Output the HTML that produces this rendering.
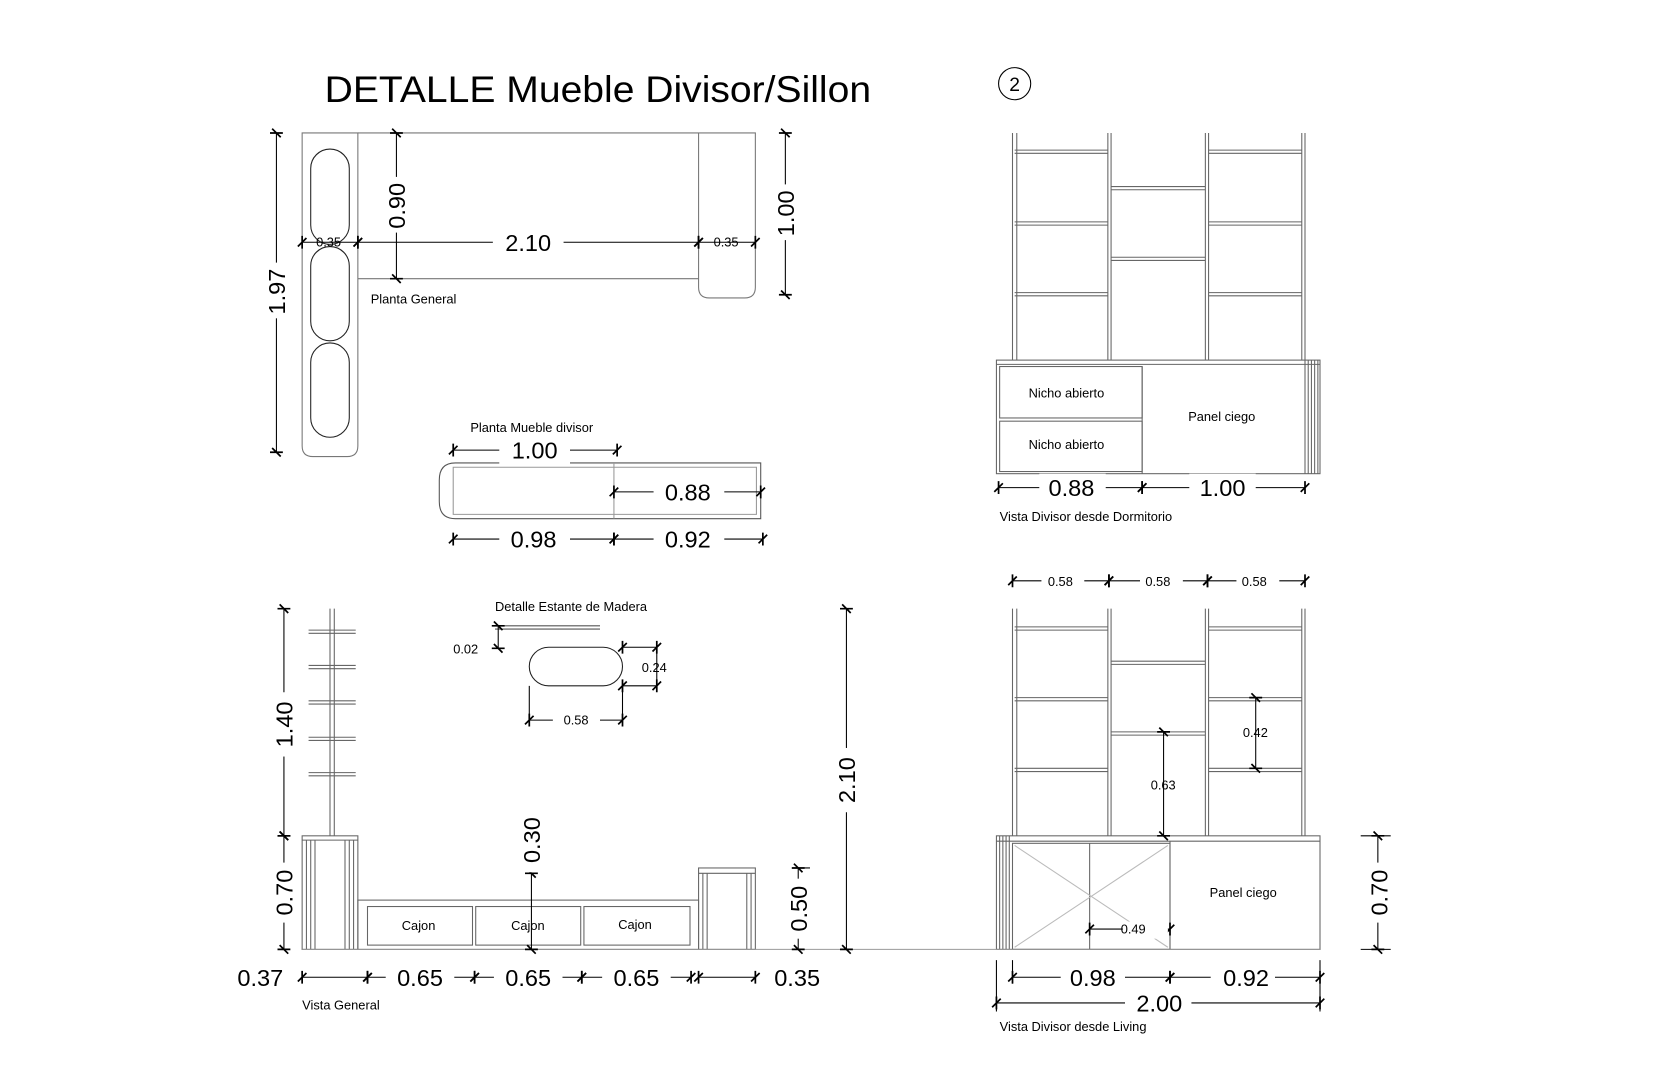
<!DOCTYPE html>
<html><head><meta charset="utf-8"><style>
html,body{margin:0;padding:0;background:#fff;}
svg{display:block;}
text{font-family:"Liberation Sans",sans-serif;fill:#000;}
.d{font-size:22px;}
.s{font-size:12px;}
</style></head><body>
<svg width="1680" height="1092" viewBox="0 0 1568 1019" xmlns="http://www.w3.org/2000/svg">
<defs>
<marker id="t" markerUnits="userSpaceOnUse" markerWidth="16" markerHeight="16" refX="8" refY="8" orient="auto" viewBox="0 0 16 16">
<path d="M4,12 L12,4 M8,2 L8,14" stroke="#000" stroke-width="1.6" fill="none"/>
</marker>
</defs>
<g fill="none" stroke="#000" stroke-width="1">
<path d="M282,124 H334 V416 Q334,426 324,426 H292 Q282,426 282,416 Z" stroke="#777"/>
<rect x="290" y="139" width="36" height="89" rx="18" stroke="#222"/>
<rect x="290" y="230" width="36" height="88" rx="18" stroke="#222"/>
<rect x="290" y="320" width="36" height="88" rx="18" stroke="#222"/>
<path d="M334,124 H705 V268 Q705,278 695,278 H662 Q652,278 652,268 V124 M334,260 H652" stroke="#777"/>
<path d="M425,432 H710 V484 H425 Q410,484 410,468 V448 Q410,432 425,432 Z" stroke="#555"/>
<path d="M423,436 H706 V480 H423 Z M573,432 V484" stroke="#999"/>
<g stroke="#666">
<path d="M945,124V336M949,124V336M1034,124V336M1037,124V336M1125,124V336M1128,124V336M1215,124V336M1218,124V336"/>
<path d="M947,140H1034M947,143H1034M947,207H1034M947,210H1034M947,273H1034M947,276H1034"/>
<path d="M1037,174H1125M1037,177H1125M1037,240H1125M1037,243H1125"/>
<path d="M1128,140H1215M1128,143H1215M1128,207H1215M1128,210H1215M1128,273H1215M1128,276H1215"/>
<rect x="930" y="336" width="302" height="106"/>
<path d="M930,340H1232"/>
<rect x="933" y="342" width="133" height="48"/>
<rect x="933" y="393" width="133" height="47"/>
<path d="M1066,342V442M1218,336V442M1221,336V442M1224,336V442M1227,336V442M1230,336V442"/>
</g>
<g stroke="#666">
<path d="M945,568V780M949,568V780M1034,568V780M1037,568V780M1125,568V780M1128,568V780M1215,568V780M1218,568V780"/>
<path d="M947,585H1034M947,588H1034M947,651H1034M947,654H1034M947,717H1034M947,720H1034"/>
<path d="M1037,617H1125M1037,620H1125M1037,683H1125M1037,686H1125"/>
<path d="M1128,585H1215M1128,588H1215M1128,651H1215M1128,654H1215M1128,717H1215M1128,720H1215"/>
<rect x="930" y="780" width="302" height="106"/>
<path d="M930,785H1232M933,780V886M936,780V886M939,780V886M942,780V886"/>
<rect x="945" y="787" width="147" height="99"/>
<path d="M1017,787V886M1092,785V886"/>
<path d="M947,789L1090,884M1090,789L947,884" stroke="#bbb"/>
</g>
<g stroke="#666">
<path d="M308,568V780M312,568V780"/>
<path d="M288,588H332M288,591H332M288,621H332M288,624H332M288,654H332M288,657H332M288,688H332M288,691H332M288,721H332M288,724H332"/>
<rect x="282" y="780" width="52" height="106"/>
<path d="M282,784H334M286,784V886M290,784V886M294,784V886M322,784V886M326,784V886M330,784V886"/>
<rect x="334" y="840" width="318" height="46"/>
<rect x="343" y="846" width="98" height="36"/>
<rect x="444" y="846" width="98" height="36"/>
<rect x="545" y="846" width="99" height="36"/>
<rect x="652" y="810" width="53" height="76"/>
<path d="M652,815H705M656,815V886M660,815V886M697,815V886M701,815V886"/>
<path d="M282,886H1232" stroke="#999"/>
</g>
<rect x="494" y="604" width="87" height="36" rx="18" stroke="#222"/>
<path d="M462,584H560M462,587H560" stroke="#555"/>
</g>

<g stroke="#000" stroke-width="1" marker-start="url(#t)" marker-end="url(#t)" fill="none">
<line x1="258" y1="124" x2="258" y2="422"/>
<line x1="370" y1="124" x2="370" y2="260"/>
<line x1="733" y1="124" x2="733" y2="275"/>
<line x1="282" y1="226" x2="334" y2="226"/>
<line x1="334" y1="226" x2="652" y2="226"/>
<line x1="652" y1="226" x2="705" y2="226"/>
<line x1="423" y1="420" x2="576" y2="420"/>
<line x1="573" y1="459" x2="710" y2="459"/>
<line x1="423" y1="503" x2="573" y2="503"/>
<line x1="573" y1="503" x2="712" y2="503"/>
<line x1="932" y1="455" x2="1066" y2="455"/>
<line x1="1066" y1="455" x2="1218" y2="455"/>
<line x1="945" y1="542" x2="1035" y2="542"/>
<line x1="1035" y1="542" x2="1127" y2="542"/>
<line x1="1127" y1="542" x2="1218" y2="542"/>
<line x1="1172" y1="651" x2="1172" y2="717"/>
<line x1="1086" y1="683" x2="1086" y2="780"/>
<line x1="1017" y1="867" x2="1092" y2="867"/>
<line x1="1286" y1="780" x2="1286" y2="886"/>
<line x1="945" y1="912" x2="1092" y2="912"/>
<line x1="1092" y1="912" x2="1232" y2="912"/>
<line x1="930" y1="936" x2="1232" y2="936"/>
<line x1="265" y1="568" x2="265" y2="780"/>
<line x1="265" y1="780" x2="265" y2="886"/>
<line x1="496" y1="815" x2="496" y2="886"/>
<line x1="745" y1="810" x2="745" y2="886"/>
<line x1="790" y1="568" x2="790" y2="886"/>
<line x1="282" y1="912" x2="343" y2="912"/>
<line x1="343" y1="912" x2="443" y2="912"/>
<line x1="443" y1="912" x2="543" y2="912"/>
<line x1="543" y1="912" x2="645" y2="912"/>
<line x1="652" y1="912" x2="705" y2="912"/>
<line x1="494" y1="672" x2="581" y2="672"/>
<line x1="581" y1="604" x2="613" y2="604"/>
<line x1="581" y1="640" x2="613" y2="640"/>
<line x1="465" y1="584" x2="465" y2="605"/>
</g>
<g fill="none" stroke="#000" stroke-width="1">
<path d="M613,604V640M494,640V675M581,640V675M1270,780H1298M1270,886H1298M930,896V944M1232,896V944M945,896V918M740,810H756"/>
</g>

<g fill="#fff">
<rect x="245" y="245" width="26" height="52"/>
<rect x="357" y="165" width="26" height="52"/>
<rect x="720" y="172" width="26" height="52"/>
<rect x="460" y="212" width="66" height="28"/>
<rect x="466" y="407" width="66" height="26"/>
<rect x="610" y="446" width="66" height="26"/>
<rect x="466" y="490" width="66" height="26"/>
<rect x="610" y="490" width="66" height="26"/>
<rect x="970" y="442" width="62" height="26"/>
<rect x="1110" y="442" width="62" height="26"/>
<rect x="972" y="534" width="40" height="16"/>
<rect x="1064" y="534" width="40" height="16"/>
<rect x="1154" y="534" width="40" height="16"/>
<rect x="1272" y="805" width="28" height="56"/>
<rect x="990" y="899" width="60" height="26"/>
<rect x="1130" y="899" width="60" height="26"/>
<rect x="1050" y="923" width="62" height="26"/>
<rect x="252" y="646" width="26" height="60"/>
<rect x="252" y="805" width="26" height="56"/>
<rect x="483" y="754" width="26" height="60"/>
<rect x="732" y="820" width="26" height="56"/>
<rect x="777" y="698" width="26" height="60"/>
<rect x="360" y="899" width="64" height="26"/>
<rect x="461" y="899" width="64" height="26"/>
<rect x="562" y="899" width="64" height="26"/>
<rect x="516" y="664" width="44" height="16"/>
<rect x="1048" y="860" width="42" height="16"/>
</g>

<text x="303" y="95" font-size="35" textLength="510" lengthAdjust="spacingAndGlyphs">DETALLE Mueble Divisor/Sillon</text>
<circle cx="947" cy="78" r="15" fill="none" stroke="#000"/>
<text x="947" y="85" font-size="18" text-anchor="middle">2</text>

<g class="d" text-anchor="middle">
<text transform="translate(266,272) rotate(-90)">1.97</text>
<text transform="translate(378,192) rotate(-90)">0.90</text>
<text transform="translate(741,199) rotate(-90)">1.00</text>
<text x="493" y="234">2.10</text>
<text x="499" y="428">1.00</text>
<text x="642" y="467">0.88</text>
<text x="498" y="511">0.98</text>
<text x="642" y="511">0.92</text>
<text x="1000" y="463">0.88</text>
<text x="1141" y="463">1.00</text>
<text transform="translate(1295,833) rotate(-90)">0.70</text>
<text x="1020" y="920">0.98</text>
<text x="1163" y="920">0.92</text>
<text x="1082" y="944">2.00</text>
<text transform="translate(273,676) rotate(-90)">1.40</text>
<text transform="translate(273,833) rotate(-90)">0.70</text>
<text transform="translate(504,784) rotate(-90)">0.30</text>
<text transform="translate(753,848) rotate(-90)">0.50</text>
<text transform="translate(798,728) rotate(-90)">2.10</text>
<text x="243" y="920">0.37</text>
<text x="392" y="920">0.65</text>
<text x="493" y="920">0.65</text>
<text x="594" y="920">0.65</text>
<text x="744" y="920">0.35</text>
</g>
<g class="s">
<text x="295" y="230">0.35</text>
<text x="666" y="230">0.35</text>
<text x="346" y="283">Planta General</text>
<text x="439" y="403">Planta Mueble divisor</text>
<text x="960" y="371">Nicho abierto</text>
<text x="960" y="419">Nicho abierto</text>
<text x="1109" y="393">Panel ciego</text>
<text x="933" y="486">Vista Divisor desde Dormitorio</text>
<text x="978" y="547">0.58</text>
<text x="1069" y="547">0.58</text>
<text x="1159" y="547">0.58</text>
<text x="1160" y="688">0.42</text>
<text x="1074" y="737">0.63</text>
<text x="1129" y="837">Panel ciego</text>
<text x="1046" y="871">0.49</text>
<text x="933" y="962">Vista Divisor desde Living</text>
<text x="462" y="570">Detalle Estante de Madera</text>
<text x="423" y="610">0.02</text>
<text x="599" y="627">0.24</text>
<text x="526" y="676">0.58</text>
<text x="375" y="868">Cajon</text>
<text x="477" y="868">Cajon</text>
<text x="577" y="867">Cajon</text>
<text x="282" y="942">Vista General</text>
</g>
</svg>
</body></html>
